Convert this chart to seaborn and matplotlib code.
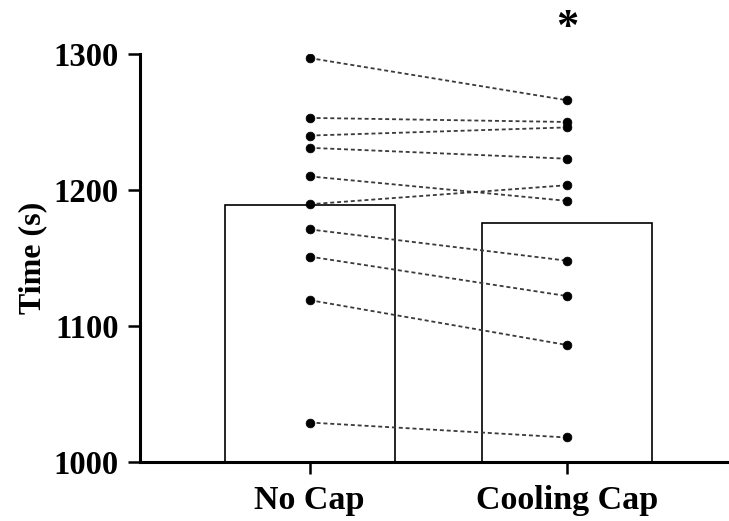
import matplotlib
matplotlib.use("Agg")
import matplotlib.pyplot as plt
import seaborn as sns
import pandas as pd
import numpy as np

categories = ["No Cap", "Cooling Cap"]
no_cap = [1297, 1253, 1240, 1231, 1210, 1189.5, 1171, 1151, 1119, 1029]
cooling_cap = [1266, 1250, 1246, 1223, 1192, 1203.5, 1148, 1122, 1086, 1018]
y_ticks = [1000, 1100, 1200, 1300]
y_label = "Time (s)"
annotation = "*"

rows = []
for i, (a, b) in enumerate(zip(no_cap, cooling_cap)):
    rows.append({"subject": i, "cond": categories[0], "pos": 0, "time": a})
    rows.append({"subject": i, "cond": categories[1], "pos": 1, "time": b})
df = pd.DataFrame(rows)

sns.set_theme(style="ticks")
plt.rcParams["font.family"] = ["Liberation Serif", "DejaVu Serif"]
plt.rcParams["font.weight"] = "bold"
for key in ["text.color", "axes.labelcolor", "xtick.color", "ytick.color",
            "xtick.labelcolor", "ytick.labelcolor"]:
    plt.rcParams[key] = "black"

fig = plt.figure(figsize=(7.29, 5.21), dpi=100)
ax = fig.add_axes([0.192, 0.1133, 0.808, 0.7831])

sns.barplot(data=df, x="pos", y="time", order=[0, 1], estimator=np.mean,
            errorbar=None, color="white", edgecolor="black", linewidth=1.2,
            width=0.66, ax=ax, native_scale=True)
sns.lineplot(data=df, x="pos", y="time", units="subject", estimator=None,
             color="#3a3a3a", linewidth=1.3, dashes=False, ax=ax,
             legend=False)
for ln in ax.lines:
    ln.set_linestyle((0, (2.2, 1.6)))
sns.scatterplot(data=df, x="pos", y="time", color="black", s=40,
                edgecolor="black", linewidth=0.5, ax=ax, legend=False,
                zorder=5)

ax.set_xlim(-0.66, 1.63)
ax.set_ylim(1000, 1300)
ax.set_yticks(y_ticks)
ax.set_yticklabels([str(t) for t in y_ticks])
ax.set_xticks([0, 1])
ax.set_xticklabels(categories)
ax.set_xlabel("")
ax.set_ylabel(y_label, fontsize=23, fontweight="bold", labelpad=4, color="black")
ax.tick_params(axis="both", width=1.8, length=8.5, color="black",
               labelcolor="black")
ax.tick_params(axis="y", labelsize=23.5, pad=7)
ax.tick_params(axis="x", labelsize=24.5, pad=8)
for lab in ax.get_xticklabels() + ax.get_yticklabels():
    lab.set_fontweight("bold")
for s in ["top", "right"]:
    ax.spines[s].set_visible(False)
for s in ["left", "bottom"]:
    ax.spines[s].set_linewidth(2.2)
    ax.spines[s].set_color("black")

ax.text(1, 1311, annotation, ha="center", va="baseline", fontsize=32,
        fontweight="bold", color="black", clip_on=False)

fig.savefig("out.png", dpi=100)
